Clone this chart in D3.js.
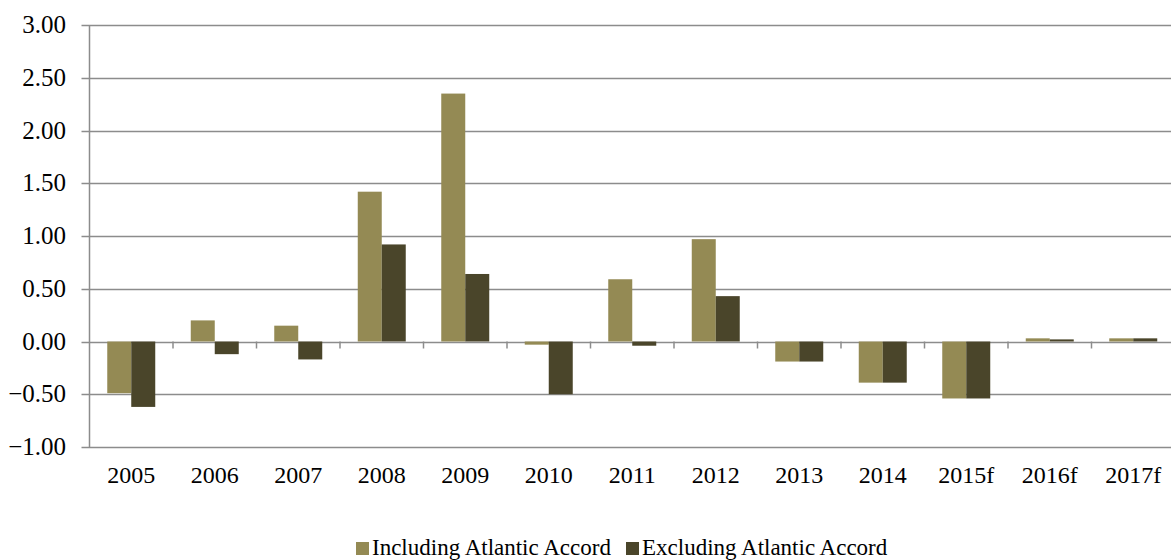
<!DOCTYPE html>
<html><head><meta charset="utf-8">
<script src="https://cdn.jsdelivr.net/npm/d3@7"></script>
<style>body{margin:0;background:#fff;overflow:hidden}svg{display:block}</style>
</head><body>
<svg id="c" width="1171" height="560"></svg>
<script>
const categories = ["2005","2006","2007","2008","2009","2010","2011","2012","2013","2014","2015f","2016f","2017f"];
const seriesNames = ["Including Atlantic Accord","Excluding Atlantic Accord"];
const including = [-0.49,0.20,0.15,1.42,2.35,-0.03,0.59,0.97,-0.19,-0.39,-0.54,0.03,0.03];
const excluding = [-0.62,-0.12,-0.17,0.92,0.64,-0.50,-0.04,0.43,-0.19,-0.39,-0.54,0.02,0.03];
const yTicks = [-1,-0.5,0,0.5,1,1.5,2,2.5,3];
const colors = ["#948a54","#4a452a"];

(function(){
const svg = d3.select("#c");
const pL = 89.5, pR = 1175, pT = 25, pB = 447;
const font = "'Liberation Serif','Times New Roman',serif";

const y = d3.scaleLinear().domain([-1,3]).range([pB, pT]);
const x0 = d3.scaleBand().domain(categories).range([pL, pR]).padding(0);
const x1 = d3.scaleBand().domain(seriesNames).range([0, x0.bandwidth()]).paddingInner(0).paddingOuter(0.74);

// gridlines
svg.append("g").selectAll("line").data(yTicks).join("line")
  .attr("x1", pL - 8).attr("x2", 1171)
  .attr("y1", d => Math.round(y(d)) + 0.5).attr("y2", d => Math.round(y(d)) + 0.5)
  .attr("stroke", "#8c8c8c").attr("stroke-width", 1.5);

// y labels
svg.append("g").selectAll("text").data(yTicks).join("text")
  .attr("x", 66).attr("y", d => y(d) + 8)
  .attr("text-anchor", "end").attr("font-family", font).attr("font-size", 25).attr("fill", "#000")
  .text(d => d3.format(".2f")(d));

// bars
const data = categories.map((c, i) => ({c, vals: [including[i], excluding[i]]}));
const g = svg.append("g").selectAll("g").data(data).join("g")
  .attr("transform", d => `translate(${x0(d.c)},0)`);
g.selectAll("rect").data(d => d.vals.map((v, k) => ({v, s: seriesNames[k], k}))).join("rect")
  .attr("x", d => x1(d.s)).attr("width", x1.bandwidth())
  .attr("y", d => y(Math.max(0, d.v))).attr("height", d => Math.abs(y(d.v) - y(0)))
  .attr("fill", d => colors[d.k]);

// y axis line
svg.append("line").attr("x1", pL).attr("x2", pL).attr("y1", pT).attr("y2", pB + 1)
  .attr("stroke", "#8c8c8c").attr("stroke-width", 1.5);

// x tick marks at zero line (category boundaries)
svg.append("g").selectAll("line").data(categories.slice(1)).join("line")
  .attr("x1", d => x0(d)).attr("x2", d => x0(d))
  .attr("y1", y(0)).attr("y2", y(0) + 7)
  .attr("stroke", "#8c8c8c").attr("stroke-width", 1.5);

// x labels
svg.append("g").selectAll("text").data(categories).join("text")
  .attr("x", d => x0(d) + x0.bandwidth() / 2).attr("y", 483)
  .attr("text-anchor", "middle").attr("font-family", font).attr("font-size", 24).attr("fill", "#000")
  .text(d => d);

// legend
const legend = [{x: 356, name: seriesNames[0], c: colors[0]}, {x: 626, name: seriesNames[1], c: colors[1]}];
const lg = svg.append("g").selectAll("g").data(legend).join("g");
lg.append("rect").attr("x", d => d.x).attr("y", 542).attr("width", 13).attr("height", 13).attr("fill", d => d.c);
lg.append("text").attr("x", d => d.x + 16).attr("y", 555)
  .attr("font-family", font).attr("font-size", 23).attr("fill", "#000").text(d => d.name);
})();
</script>
</body></html>
